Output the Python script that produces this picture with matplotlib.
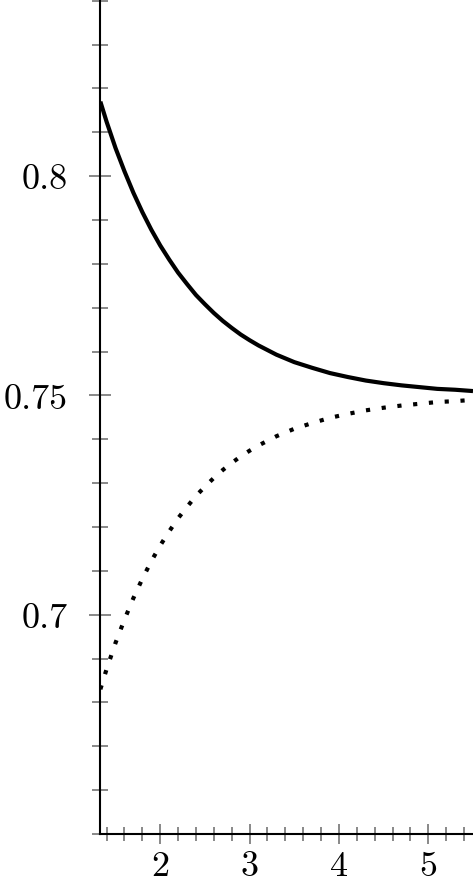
import matplotlib
matplotlib.use('Agg')
import matplotlib.pyplot as plt
from matplotlib.ticker import FixedLocator, MultipleLocator

plt.rcParams['font.family'] = 'serif'
plt.rcParams['font.serif'] = ['cmr10', 'DejaVu Serif']
plt.rcParams['axes.formatter.use_mathtext'] = True

# values
x = [1.33, 1.4, 1.5, 1.6, 1.7, 1.8, 1.9, 2.0, 2.1, 2.2, 2.3, 2.4, 2.5,
     2.6, 2.7, 2.8, 2.9, 3.0, 3.1, 3.3, 3.5, 3.7, 3.9, 4.1, 4.3, 4.5,
     4.7, 4.9, 5.1, 5.3, 5.5]
upper = [0.817, 0.8124, 0.8064, 0.8011, 0.7962, 0.7918, 0.7878, 0.7842,
         0.781, 0.778, 0.7754, 0.7729, 0.7708, 0.7688, 0.767, 0.7654,
         0.7639, 0.7626, 0.7614, 0.7593, 0.7576, 0.7563, 0.7551, 0.7542,
         0.7534, 0.7528, 0.7523, 0.7519, 0.7515, 0.7513, 0.751]
lower = [0.683, 0.6876, 0.6936, 0.6989, 0.7038, 0.7082, 0.7122, 0.7158,
         0.719, 0.722, 0.7246, 0.7271, 0.7292, 0.7312, 0.733, 0.7346,
         0.7361, 0.7374, 0.7386, 0.7407, 0.7424, 0.7437, 0.7449, 0.7458,
         0.7466, 0.7472, 0.7477, 0.7481, 0.7485, 0.7487, 0.749]

xticks = [2, 3, 4, 5]
xticklabels = ['2', '3', '4', '5']
yticks = [0.7, 0.75, 0.8]
yticklabels = ['0.7', '0.75', '0.8']

W, H = 473, 887
fig = plt.figure(figsize=(W / 100, H / 100), dpi=100)
ax = fig.add_axes([100 / W, 52 / H, 373 / W, 835 / H])

ax.plot(x, upper, color='black', lw=3.0, solid_capstyle='butt',
        solid_joinstyle='round')
ax.plot(x, lower, color='black', lw=3.0, linestyle=(0, (1, 2.8)),
        dash_capstyle='butt')

ax.set_xlim(1.326, 5.5)
ax.set_ylim(0.65, 0.8404)

ax.spines['top'].set_visible(False)
ax.spines['right'].set_visible(False)
for s in ('left', 'bottom'):
    ax.spines[s].set_linewidth(1.5)
    ax.spines[s].set_color('black')

ax.xaxis.set_major_locator(FixedLocator(xticks))
ax.set_xticklabels(xticklabels)
ax.xaxis.set_minor_locator(MultipleLocator(0.2))
ax.yaxis.set_major_locator(FixedLocator(yticks))
ax.set_yticklabels(yticklabels)
ax.yaxis.set_minor_locator(MultipleLocator(0.01))

ax.tick_params(axis='y', which='major', direction='inout', length=16,
               width=1.4, color='#888888', labelsize=26, pad=15)
ax.tick_params(axis='y', which='minor', direction='inout', length=11,
               width=1.4, color='#888888')
ax.tick_params(axis='x', which='major', direction='inout', length=14,
               width=1.4, color='#888888', labelsize=26, pad=5)
ax.tick_params(axis='x', which='minor', direction='inout', length=10,
               width=1.4, color='#888888')

fig.savefig('out.png', dpi=100)
